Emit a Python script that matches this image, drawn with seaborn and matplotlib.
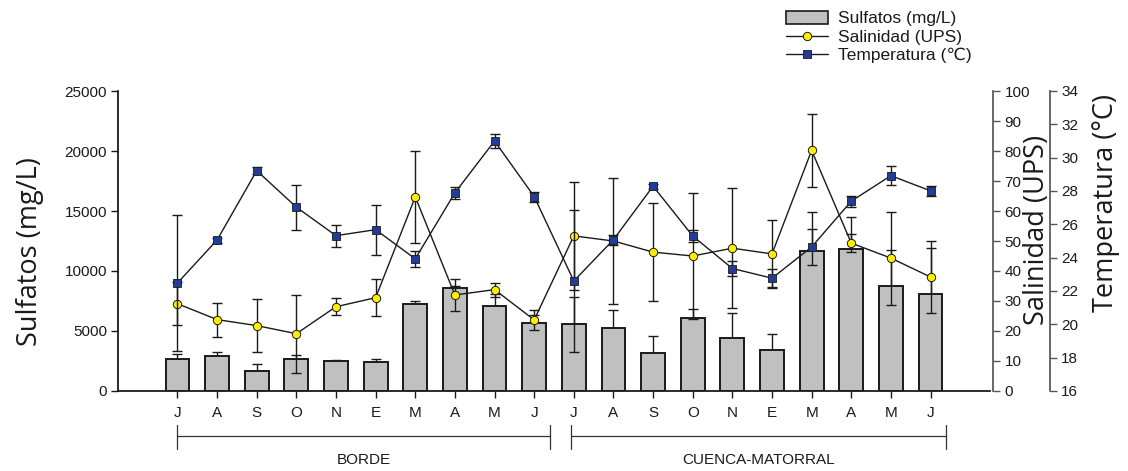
import numpy as np
import pandas as pd
import matplotlib
matplotlib.use("Agg")
import matplotlib.pyplot as plt
import matplotlib.transforms as mtransforms
from matplotlib.patches import Patch
from matplotlib.lines import Line2D
import seaborn as sns

# ---------------- data ----------------
months = ["J", "A", "S", "O", "N", "E", "M", "A", "M", "J",
          "J", "A", "S", "O", "N", "E", "M", "A", "M", "J"]
groups = ["BORDE", "CUENCA-MATORRAL"]

sulfatos = [2690, 2920, 1640, 2640, 2470, 2420, 7250, 8610, 7110, 5640,
            5560, 5280, 3190, 6110, 4390, 3440, 11670, 11830, 8780, 8080]
sulfatos_err = [360, 330, 610, 330, 140, 250, 280, 150, 950, 720,
                2300, 1450, 1420, 720, 2080, 1310, 3220, 2670, 2940, 3810]

salinidad = [29.1, 23.8, 21.8, 19.1, 28.1, 31.1, 64.7, 32.0, 33.8, 23.7,
             51.7, 50.0, 46.3, 45.0, 47.6, 45.7, 80.2, 49.3, 44.3, 38.0]
salinidad_err = [7.1, 5.7, 8.8, 13.0, 2.9, 6.1, 15.4, 5.2, 2.3, 3.3,
                 18.1, 21.0, 16.4, 21.1, 20.0, 11.3, 12.2, 3.0, 15.5, 12.1]

temperatura = [22.48, 25.06, 29.22, 27.03, 25.32, 25.68, 23.93, 27.89, 31.0, 27.67,
               22.6, 25.08, 28.29, 25.3, 23.35, 22.77, 24.64, 27.39, 28.92, 28.01]
temperatura_err = [4.08, 0.15, 0.2, 1.34, 0.67, 1.5, 0.49, 0.35, 0.4, 0.3,
                   4.28, 0.3, 0.15, 0.35, 0.43, 0.55, 1.06, 0.34, 0.57, 0.3]

sulf_ticks = [0, 5000, 10000, 15000, 20000, 25000]
sal_ticks = [0, 10, 20, 30, 40, 50, 60, 70, 80, 90, 100]
temp_ticks = [16, 18, 20, 22, 24, 26, 28, 30, 32, 34]

# ---------------- style ----------------
sns.set_theme(style="white")
plt.rcParams["font.family"] = ["Liberation Sans", "DejaVu Sans"]
plt.rcParams["axes.unicode_minus"] = False

TICK_FS = 11
W, H = 1128, 471
fig = plt.figure(figsize=(W / 100, H / 100), dpi=100)
left_px, right_px, top_px, bot_px = 118, 990, 91, 391
ax = fig.add_axes([left_px / W, 1 - bot_px / H,
                   (right_px - left_px) / W, (bot_px - top_px) / H])

x = np.arange(len(months))
df = pd.DataFrame({"x": x, "sulfatos": sulfatos, "salinidad": salinidad,
                   "temperatura": temperatura})

BAR_COLOR = "#c0c0c0"
YELLOW = "#ffee00"
BLUE = "#233d96"
SPINE_GRAY = "#555555"
INK = "#1a1a1a"

# bars (sulfatos)
sns.barplot(data=df, x="x", y="sulfatos", native_scale=True, width=0.6,
            color=BAR_COLOR, edgecolor=INK, linewidth=1.4,
            saturation=1, errorbar=None, ax=ax, zorder=2)
ax.errorbar(x, sulfatos, yerr=sulfatos_err, fmt="none", ecolor=INK,
            elinewidth=1.0, capsize=3.8, capthick=1.0, zorder=1.5)

ax.set_xlim(-1.5, 20.5)
ax.set_ylim(0, 25000)
ax.set_yticks(sulf_ticks)
ax.set_yticklabels([str(t) for t in sulf_ticks], fontsize=TICK_FS)
ax.set_xticks(x)
ax.set_xticklabels(months, fontsize=TICK_FS)
ax.set_xlabel("")
ax.set_ylabel("")
ax.tick_params(axis="both", direction="out", length=5, width=1, color=INK,
               left=True, bottom=True, labelcolor=INK)
ax.tick_params(axis="x", pad=6)
ax.tick_params(axis="y", pad=3)
for s in ["top", "right"]:
    ax.spines[s].set_visible(False)
for s in ["left", "bottom"]:
    ax.spines[s].set_color(INK)
    ax.spines[s].set_linewidth(1.3)
ax.set_facecolor("none")

# salinidad axis
ax2 = ax.twinx()
ax2.set_ylim(0, 100)
ax2.errorbar(x, salinidad, yerr=salinidad_err, fmt="none", ecolor=INK,
             elinewidth=1.0, capsize=3.8, capthick=1.0, zorder=3)
sns.lineplot(x=x, y=salinidad, ax=ax2, color=INK, linewidth=1.0,
             marker="o", markersize=6, markerfacecolor=YELLOW,
             markeredgecolor=INK, markeredgewidth=0.7, zorder=4)
ax2.set_yticks(sal_ticks)
ax2.set_yticklabels([str(t) for t in sal_ticks], fontsize=TICK_FS)
ax2.set_ylabel("")
for s in ["top", "left", "bottom"]:
    ax2.spines[s].set_visible(False)
ax2.spines["right"].set_position(("axes", 1.004))
ax2.spines["right"].set_color(SPINE_GRAY)
ax2.tick_params(axis="y", right=True, direction="out", length=5, width=1,
                color=SPINE_GRAY, pad=3, labelcolor=INK)

# temperatura axis
ax3 = ax.twinx()
ax3.set_ylim(16, 34)
ax3.errorbar(x, temperatura, yerr=temperatura_err, fmt="none", ecolor=INK,
             elinewidth=1.0, capsize=3.8, capthick=1.0, zorder=3)
sns.lineplot(x=x, y=temperatura, ax=ax3, color=INK, linewidth=1.0,
             marker="s", markersize=6, markerfacecolor=BLUE,
             markeredgecolor=INK, markeredgewidth=0.6, zorder=4)
ax3.set_yticks(temp_ticks)
ax3.set_yticklabels([str(t) for t in temp_ticks], fontsize=TICK_FS)
ax3.set_ylabel("")
for s in ["top", "left", "bottom"]:
    ax3.spines[s].set_visible(False)
ax3.spines["right"].set_position(("axes", (1050 - left_px) / (right_px - left_px)))
ax3.spines["right"].set_color(SPINE_GRAY)
ax3.tick_params(axis="y", right=True, direction="out", length=5, width=1,
                color=SPINE_GRAY, pad=3, labelcolor=INK)
ax3.set_xlim(-1.5, 20.5)

# axis titles
lab_font = dict(family=["Open Sans", "DejaVu Sans"], fontsize=19.5, color=INK)
fig.text(30 / W, 1 - 252 / H, "Sulfatos (mg/L)", rotation=90,
         ha="center", va="center", **lab_font)
fig.text(1037 / W, 1 - 230 / H, "Salinidad (UPS)", rotation=90,
         ha="center", va="center", **lab_font)
fig.text(1106 / W, 1 - 203 / H, "Temperatura (°C)", rotation=90,
         ha="center", va="center", **lab_font)

# group brackets
trans = mtransforms.blended_transform_factory(ax.transData, ax.transAxes)
brackets = [(0.0, 9.4), (9.92, 19.4)]
ymid = (bot_px - 436) / (bot_px - top_px)
ylo = (bot_px - 449) / (bot_px - top_px)
yhi = (bot_px - 425) / (bot_px - top_px)
ylab = (bot_px - 460) / (bot_px - top_px)
for (x0, x1), g in zip(brackets, groups):
    ax.plot([x0, x1], [ymid, ymid], transform=trans, color="#333333", lw=0.9,
            clip_on=False)
    for xe in (x0, x1):
        ax.plot([xe, xe], [ylo, yhi], transform=trans, color="#333333", lw=0.9,
                clip_on=False)
    ax.text((x0 + x1) / 2, ylab, g, transform=trans, ha="center", va="center",
            fontsize=TICK_FS, color=INK)

# legend
handles = [
    Patch(facecolor=BAR_COLOR, edgecolor=INK, linewidth=1.2),
    Line2D([0], [0], color=INK, lw=1.0, marker="o", markersize=6,
           markerfacecolor=YELLOW, markeredgecolor=INK, markeredgewidth=0.7),
    Line2D([0], [0], color=INK, lw=1.0, marker="s", markersize=6,
           markerfacecolor=BLUE, markeredgecolor=INK, markeredgewidth=0.6),
]
labels = ["Sulfatos (mg/L)", "Salinidad (UPS)", "Temperatura (\u2103)"]
leg = fig.legend(handles, labels, loc="upper left",
                 bbox_to_anchor=(779 / W, 1 - 4 / H), frameon=False,
                 fontsize=12.5, handlelength=2.4, handleheight=0.75,
                 labelspacing=0.18, handletextpad=0.6, borderaxespad=0)
for t in leg.get_texts():
    t.set_color(INK)

fig.savefig("out.png", dpi=100)
